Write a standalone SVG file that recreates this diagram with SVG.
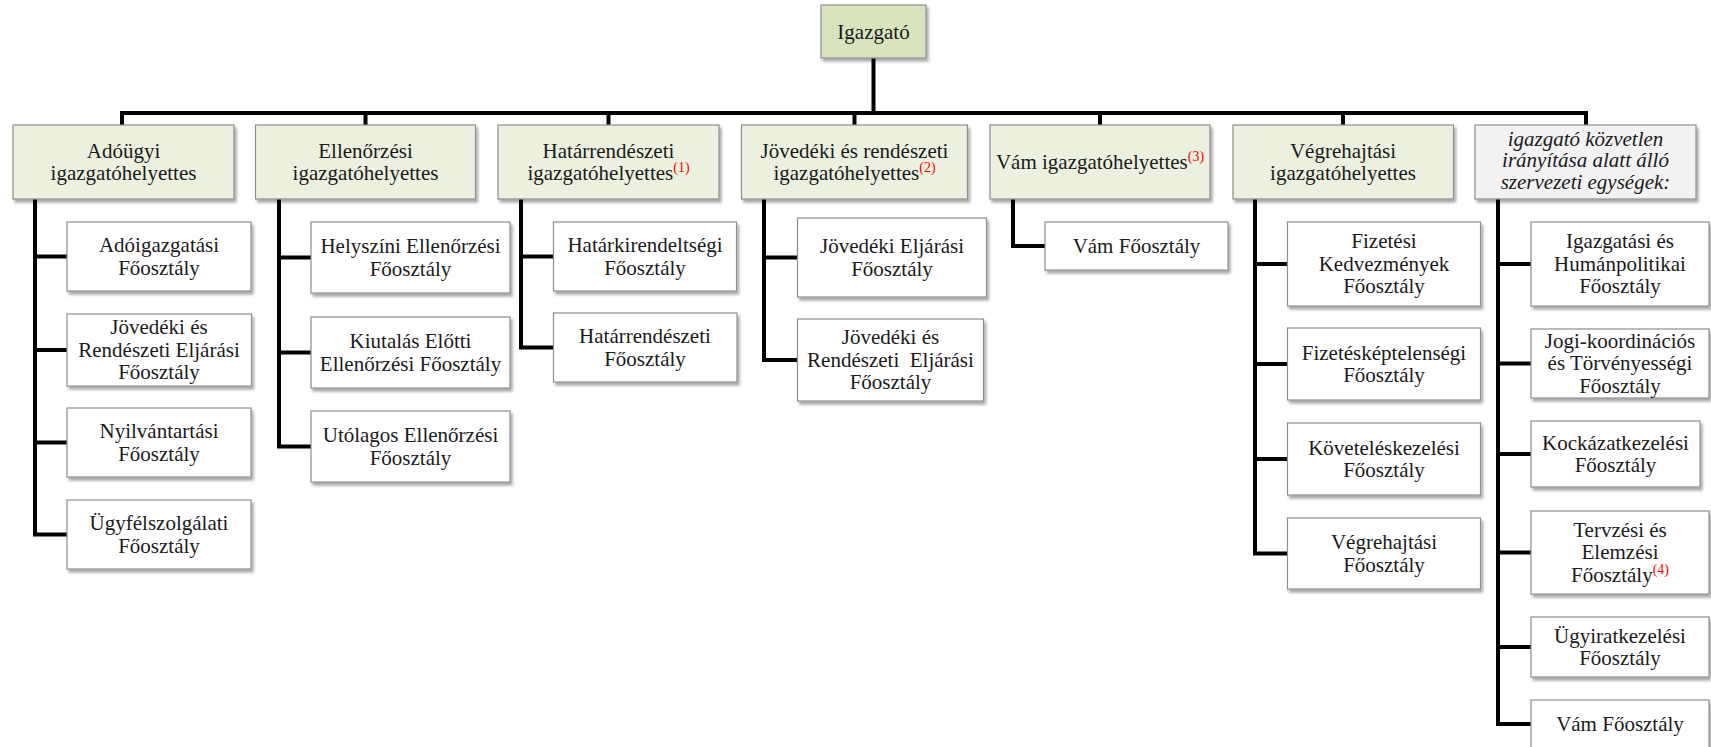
<svg xmlns="http://www.w3.org/2000/svg" width="1711" height="747" viewBox="0 0 1711 747">
  <defs>
    <filter id="sh" x="-10%" y="-10%" width="125%" height="130%">
      <feDropShadow dx="2" dy="3" stdDeviation="1.6" flood-color="#000" flood-opacity="0.35"/>
    </filter>
    <style>
      .conn { fill: none; stroke: #000; stroke-width: 4; stroke-linejoin: miter; stroke-linecap: butt; }
      .node rect { stroke: #8e8e8e; stroke-width: 1.2; filter: url(#sh); }
      .top rect { fill: #d7e4bd; }
      .dep rect { fill: #ebf1de; }
      .dir rect { fill: #f2f2f2; }
      .unit rect { fill: #ffffff; }
      text { font-family: "Liberation Serif", "Times New Roman", serif; font-size: 21px; fill: #1a1a1a; text-anchor: middle; }
      .it { font-style: italic; }
      .sup { font-size: 14px; fill: #ff0000; }
    </style>
  </defs>
  <rect width="1711" height="747" fill="#ffffff"/>

  <!-- connectors -->
  <g id="connectors" class="conn">
    <path d="M873.5,58 V113"/>
    <path d="M122,125 V113 H1586 V125"/>
    <path d="M365.5,113 V125 M608.5,113 V125 M854.5,113 V125 M1100,113 V125 M1343,113 V125"/>
    <!-- Adóügyi column -->
    <path d="M35,199 V534.5 H67 M35,256.5 H67 M35,350 H67 M35,442.5 H67"/>
    <!-- Ellenőrzési column -->
    <path d="M279,199 V446.5 H311 M279,257.5 H311 M279,352.5 H311"/>
    <!-- Határrendészeti column -->
    <path d="M521,199 V347.5 H553.5 M521,256.5 H553.5"/>
    <!-- Jövedéki column -->
    <path d="M764,199 V360 H797.5 M764,257.5 H797.5"/>
    <!-- Vám column -->
    <path d="M1013,199 V246 H1045"/>
    <!-- Végrehajtási column -->
    <path d="M1255,199 V553.5 H1287.5 M1255,264 H1287.5 M1255,364 H1287.5 M1255,459 H1287.5"/>
    <!-- directly supervised units -->
    <path d="M1498,199 V724 H1531 M1498,264 H1531 M1498,363.5 H1531 M1498,454 H1531 M1498,552.5 H1531 M1498,647 H1531"/>
  </g>

  <!-- director -->
  <g id="igazgato" class="node top">
    <rect x="821" y="5" width="105" height="53"/>
    <text x="873.5" y="38.5">Igazgató</text>
  </g>

  <!-- deputy directors -->
  <g id="adougyi" class="node dep">
    <rect x="13" y="125" width="221" height="74"/>
    <text x="123.5" y="157.5">Adóügyi</text>
    <text x="123.5" y="180">igazgatóhelyettes</text>
  </g>
  <g id="ellenorzesi" class="node dep">
    <rect x="255.5" y="125" width="220" height="74"/>
    <text x="365.5" y="157.5">Ellenőrzési</text>
    <text x="365.5" y="180">igazgatóhelyettes</text>
  </g>
  <g id="hatarrendeszeti" class="node dep">
    <rect x="498" y="125" width="221" height="74"/>
    <text x="608.5" y="157.5">Határrendészeti</text>
    <text x="608.5" y="180">igazgatóhelyettes<tspan class="sup" dy="-8">(1)</tspan></text>
  </g>
  <g id="jovedeki" class="node dep">
    <rect x="741.5" y="125" width="226" height="74"/>
    <text x="854.5" y="157.5">Jövedéki és rendészeti</text>
    <text x="854.5" y="180">igazgatóhelyettes<tspan class="sup" dy="-8">(2)</tspan></text>
  </g>
  <g id="vam" class="node dep">
    <rect x="990" y="125" width="220" height="74"/>
    <text x="1100" y="169">Vám igazgatóhelyettes<tspan class="sup" dy="-8">(3)</tspan></text>
  </g>
  <g id="vegrehajtasi" class="node dep">
    <rect x="1233" y="125" width="220.5" height="74"/>
    <text x="1343" y="157.5">Végrehajtási</text>
    <text x="1343" y="180">igazgatóhelyettes</text>
  </g>
  <g id="kozvetlen" class="node dir">
    <rect x="1475" y="125" width="221" height="74"/>
    <text class="it" x="1585.5" y="146">igazgató közvetlen</text>
    <text class="it" x="1585.5" y="167">irányítása alatt álló</text>
    <text class="it" x="1585.5" y="188.5">szervezeti egységek:</text>
  </g>

  <!-- Adóügyi units -->
  <g id="adoigazgatasi" class="node unit">
    <rect x="67" y="222" width="184" height="69"/>
    <text x="159" y="252">Adóigazgatási</text>
    <text x="159" y="274.5">Főosztály</text>
  </g>
  <g id="jov-rend-eljarasi-1" class="node unit">
    <rect x="67" y="314" width="184.5" height="72"/>
    <text x="159" y="334.25">Jövedéki és</text>
    <text x="159" y="356.75">Rendészeti Eljárási</text>
    <text x="159" y="379.25">Főosztály</text>
  </g>
  <g id="nyilvantartasi" class="node unit">
    <rect x="67" y="408" width="184" height="69"/>
    <text x="159" y="438">Nyilvántartási</text>
    <text x="159" y="460.5">Főosztály</text>
  </g>
  <g id="ugyfelszolgalati" class="node unit">
    <rect x="67" y="500" width="184" height="69"/>
    <text x="159" y="530">Ügyfélszolgálati</text>
    <text x="159" y="552.5">Főosztály</text>
  </g>

  <!-- Ellenőrzési units -->
  <g id="helyszini" class="node unit">
    <rect x="311" y="222" width="199" height="71"/>
    <text x="410.5" y="253">Helyszíni Ellenőrzési</text>
    <text x="410.5" y="275.5">Főosztály</text>
  </g>
  <g id="kiutalas" class="node unit">
    <rect x="311" y="317" width="199" height="71"/>
    <text x="410.5" y="348">Kiutalás Előtti</text>
    <text x="410.5" y="370.5">Ellenőrzési Főosztály</text>
  </g>
  <g id="utolagos" class="node unit">
    <rect x="311" y="411" width="199" height="71"/>
    <text x="410.5" y="442">Utólagos Ellenőrzési</text>
    <text x="410.5" y="464.5">Főosztály</text>
  </g>

  <!-- Határrendészeti units -->
  <g id="hatarkirendeltsegi" class="node unit">
    <rect x="553.5" y="222" width="183" height="69"/>
    <text x="645" y="252">Határkirendeltségi</text>
    <text x="645" y="274.5">Főosztály</text>
  </g>
  <g id="hatarrendeszeti-fo" class="node unit">
    <rect x="553.5" y="313" width="183.5" height="69"/>
    <text x="645" y="343">Határrendészeti</text>
    <text x="645" y="365.5">Főosztály</text>
  </g>

  <!-- Jövedéki units -->
  <g id="jovedeki-eljarasi" class="node unit">
    <rect x="797.5" y="218" width="189" height="79"/>
    <text x="892" y="253">Jövedéki Eljárási</text>
    <text x="892" y="275.5">Főosztály</text>
  </g>
  <g id="jov-rend-eljarasi-2" class="node unit">
    <rect x="797.5" y="319" width="186" height="82"/>
    <text x="890.5" y="344.25">Jövedéki és</text>
    <text x="890.5" y="366.75">Rendészeti&#160; Eljárási</text>
    <text x="890.5" y="389.25">Főosztály</text>
  </g>

  <!-- Vám unit -->
  <g id="vam-fo-1" class="node unit">
    <rect x="1045" y="222" width="183" height="48"/>
    <text x="1136.5" y="253">Vám Főosztály</text>
  </g>

  <!-- Végrehajtási units -->
  <g id="fizetesi-kedvezmenyek" class="node unit">
    <rect x="1287.5" y="222" width="193" height="84"/>
    <text x="1384" y="248.25">Fizetési</text>
    <text x="1384" y="270.75">Kedvezmények</text>
    <text x="1384" y="293.25">Főosztály</text>
  </g>
  <g id="fizeteskeptelensegi" class="node unit">
    <rect x="1287.5" y="328" width="193" height="72"/>
    <text x="1384" y="359.5">Fizetésképtelenségi</text>
    <text x="1384" y="382">Főosztály</text>
  </g>
  <g id="koveteleskezelesi" class="node unit">
    <rect x="1287.5" y="423" width="193" height="72"/>
    <text x="1384" y="454.5">Követeléskezelési</text>
    <text x="1384" y="477">Főosztály</text>
  </g>
  <g id="vegrehajtasi-fo" class="node unit">
    <rect x="1287.5" y="518" width="193" height="71"/>
    <text x="1384" y="549">Végrehajtási</text>
    <text x="1384" y="571.5">Főosztály</text>
  </g>

  <!-- directly supervised units -->
  <g id="igazgatasi-human" class="node unit">
    <rect x="1531" y="222" width="178" height="84"/>
    <text x="1620" y="248.25">Igazgatási és</text>
    <text x="1620" y="270.75">Humánpolitikai</text>
    <text x="1620" y="293.25">Főosztály</text>
  </g>
  <g id="jogi-koordinacios" class="node unit">
    <rect x="1531" y="329" width="178" height="69"/>
    <text x="1620" y="347.75">Jogi-koordinációs</text>
    <text x="1620" y="370.25">és Törvényességi</text>
    <text x="1620" y="392.75">Főosztály</text>
  </g>
  <g id="kockazatkezelesi" class="node unit">
    <rect x="1531" y="421" width="169" height="66"/>
    <text x="1615.5" y="449.5">Kockázatkezelési</text>
    <text x="1615.5" y="472">Főosztály</text>
  </g>
  <g id="tervezesi" class="node unit">
    <rect x="1531" y="511" width="178" height="83"/>
    <text x="1620" y="536.75">Tervzési és</text>
    <text x="1620" y="559.25">Elemzési</text>
    <text x="1620" y="581.75">Főosztály<tspan class="sup" dy="-8">(4)</tspan></text>
  </g>
  <g id="ugyiratkezelesi" class="node unit">
    <rect x="1531" y="617" width="178" height="60"/>
    <text x="1620" y="642.5">Ügyiratkezelési</text>
    <text x="1620" y="665">Főosztály</text>
  </g>
  <g id="vam-fo-2" class="node unit">
    <rect x="1531" y="700" width="178" height="48"/>
    <text x="1620" y="731">Vám Főosztály</text>
  </g>
</svg>
